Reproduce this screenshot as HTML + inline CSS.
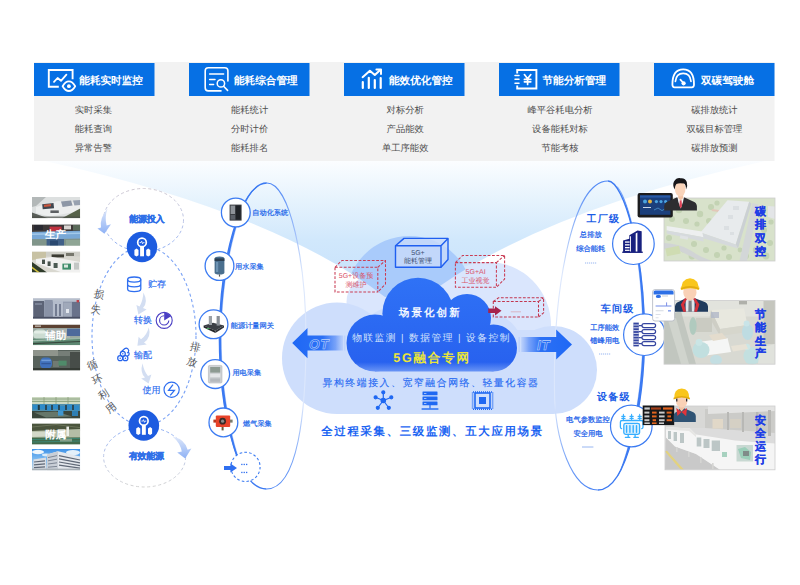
<!DOCTYPE html>
<html lang="zh">
<head>
<meta charset="utf-8">
<title>5G 能耗管理</title>
<style>
html,body{margin:0;padding:0;background:#fff;}
body{width:800px;height:585px;overflow:hidden;position:relative;font-family:"Liberation Sans",sans-serif;}
svg{display:block;position:absolute;left:0;top:0;}
svg text{font-family:"Liberation Sans",sans-serif;text-rendering:geometricPrecision;}
.hd{fill:#fff;font-size:10.6px;font-weight:bold;}
.li{fill:#4d4d4d;font-size:9.3px;text-anchor:middle;}
.dv{fill:#2468ea;font-size:7.2px;stroke:#2468ea;stroke-width:0.22px;}
.fl{fill:#2a6af0;font-size:9px;stroke:#2a6af0;stroke-width:0.15px;}
.rt{fill:#1a5ce6;font-size:10px;font-weight:bold;letter-spacing:1.2px;}
.rs{fill:#2060ea;font-size:7.3px;text-anchor:middle;stroke:#2060ea;stroke-width:0.22px;}
.vt{fill:#1f3fe6;font-size:11px;font-weight:bold;text-anchor:middle;stroke:#1f3fe6;stroke-width:0.3px;}
.gy{fill:#595959;font-size:10.4px;text-anchor:middle;}
.ph{fill:#fff;font-size:10.5px;font-weight:bold;text-anchor:middle;}
</style>
</head>
<body>
<svg width="800" height="585" viewBox="0 0 800 585">
<defs>
  <linearGradient id="beam" gradientUnits="userSpaceOnUse" x1="0" y1="161" x2="0" y2="300">
    <stop offset="0" stop-color="#fbfdff"/>
    <stop offset="0.28" stop-color="#e6f3fd"/>
    <stop offset="0.57" stop-color="#d1e8fc"/>
    <stop offset="1" stop-color="#c4dffb"/>
  </linearGradient>
  <linearGradient id="deep" gradientUnits="userSpaceOnUse" x1="0" y1="278" x2="0" y2="371.5">
    <stop offset="0" stop-color="#2f72f6"/>
    <stop offset="0.9" stop-color="#2862ef"/>
    <stop offset="1" stop-color="#6a95f5"/>
  </linearGradient>
  <linearGradient id="arL" x1="0" y1="0" x2="1" y2="0">
    <stop offset="0" stop-color="#1f68f5"/>
    <stop offset="0.6" stop-color="#2b70f5"/>
    <stop offset="0.85" stop-color="#6f9cf8" stop-opacity="0.9"/>
    <stop offset="1" stop-color="#b3cbfb" stop-opacity="0.7"/>
  </linearGradient>
  <linearGradient id="arR" x1="1" y1="0" x2="0" y2="0">
    <stop offset="0" stop-color="#1f68f5"/>
    <stop offset="0.62" stop-color="#2b70f5"/>
    <stop offset="0.85" stop-color="#6f9cf8" stop-opacity="0.9"/>
    <stop offset="1" stop-color="#b3cbfb" stop-opacity="0.7"/>
  </linearGradient>
  <linearGradient id="ellL" x1="0" y1="0" x2="0" y2="1">
    <stop offset="0" stop-color="#4d8cf5"/>
    <stop offset="1" stop-color="#2563eb"/>
  </linearGradient>
</defs>

<!-- background beam -->
<path id="beamP" d="M45,161 L765,161 Q535,212 425,297 L385,297 Q275,212 45,161 Z" fill="url(#beam)"/>
<clipPath id="beamClip"><path d="M45,161 L765,161 Q535,212 425,297 L385,297 Q275,212 45,161 Z"/></clipPath>

<!-- top panel -->
<rect x="34" y="62" width="740.5" height="99" fill="#f2f2f2"/>
<g fill="#0670e4">
  <rect x="34" y="63" width="120.5" height="33"/>
  <rect x="189" y="63" width="120.5" height="33"/>
  <rect x="344" y="63" width="120.5" height="33"/>
  <rect x="499" y="63" width="120.5" height="33"/>
  <rect x="654" y="63" width="120.5" height="33"/>
</g>

<!-- CLOUDS -->
<g id="clouds">
  <!-- layer A -->
  <g fill="#dae6fd">
    <circle cx="374" cy="302" r="27.5"/>
    <circle cx="488" cy="325" r="63"/>
    <rect x="372" y="300" width="120" height="80"/>
  </g>
  <circle cx="409.5" cy="300" r="64" fill="#a9cbfb" clip-path="url(#beamClip)"/>
  <!-- layer B -->
  <g fill="#cedefc">
    <ellipse cx="337" cy="358.2" rx="55" ry="55.8"/>
    <circle cx="553" cy="370" r="44"/>
    <rect x="337" y="330" width="216" height="84"/>
    <circle cx="400" cy="350" r="45"/>
    <circle cx="480" cy="355" r="45"/>
  </g>
  <!-- layer D -->
  <g fill="url(#deep)">
    <circle cx="418" cy="313.3" r="35.6"/>
    <circle cx="467" cy="318" r="24"/>
    <circle cx="375" cy="343" r="28.5"/>
    <circle cx="493.5" cy="348" r="23.5"/>
    <rect x="375" y="330" width="118.5" height="41.5"/>
  </g>
</g>

<!-- big ellipses -->
<defs>
  <linearGradient id="thinG" gradientUnits="userSpaceOnUse" x1="0" y1="181" x2="0" y2="490">
    <stop offset="0" stop-color="#4d86f5"/><stop offset="0.14" stop-color="#8fb3f8"/><stop offset="0.3" stop-color="#dce7fc"/>
    <stop offset="0.72" stop-color="#dce7fc"/><stop offset="0.86" stop-color="#8fb3f8"/><stop offset="1" stop-color="#4d86f5"/>
  </linearGradient>
</defs>
<g fill="none">
  <!-- left ellipse -->
  <path d="M266.8,183 C290,183 306,262 306,338 C306,412 298,489 266.4,489" stroke="url(#thinG)" stroke-width="1.1"/>
  <path d="M266.8,183 C240,183 219.4,262 219.4,338 C219.4,405 236,489 266.4,489" stroke="#3b79f2" stroke-width="1.4"/>
  <path d="M257,187 C238,198 219.4,268 219.4,338 C219.4,396 230,450 246,477 C233,450 221.2,396 221.2,338 C221.2,268 240,198 257,187 Z" fill="#3b79f2" stroke="#3b79f2" stroke-width="0.3"/>
  <!-- right ellipse -->
  <path d="M608,181 C570,181 553,300 554.5,390 C554.5,440 572,490 598,490" stroke="url(#thinG)" stroke-width="1.1"/>
  <path d="M608,181 C624,181 644.5,256 644.5,335 C644.5,400 628,490 598,490" stroke="#3b79f2" stroke-width="1.4"/>
  <path d="M617,186.4 C630,200 644.5,266 644.5,335 C644.5,392 634,446 618,476 C631,446 642.7,392 642.7,335 C642.7,266 629,200 617,186.4 Z" fill="#3b79f2" stroke="#3b79f2" stroke-width="0.3"/>
</g>

<!-- OT / IT arrows -->
<g>
  <path d="M292.2,343.1 L307.5,328 L307.5,335.6 L343.2,335.6 L343.2,350.6 L307.5,350.6 L307.5,358.2 Z" fill="url(#arL)"/>
  <rect x="344" y="335.6" width="1.4" height="15" fill="#bcd1fb" opacity="0.8"/>
  <text x="319" y="348.6" font-size="13.6" font-style="italic" font-weight="bold" fill="none" stroke="#bdd2fc" stroke-width="0.55" text-anchor="middle" letter-spacing="0.6">OT</text>
  <path d="M572,344.4 L556.2,329.4 L556.2,337 L521.2,337 L521.2,352 L556.2,352 L556.2,359.4 Z" fill="url(#arR)"/>
  <rect x="518.4" y="337" width="1.6" height="15" fill="#bcd1fb" opacity="0.8"/>
  <text x="543.6" y="349.6" font-size="13.6" font-style="italic" font-weight="bold" fill="none" stroke="#bdd2fc" stroke-width="0.55" text-anchor="middle" letter-spacing="0.6">IT</text>
</g>

<!-- boxes on cloud -->
<g id="boxes">
  <!-- solid blue box -->
  <g stroke="#1f5ff0" stroke-width="1.4" fill="#c8dafa" fill-opacity="0.8" stroke-linejoin="round">
    <path d="M395.5,245.8 L404,238.4 L448,238.4 L448,259.5 L441,267.3 L395.5,267.3 Z"/>
    <path d="M395.5,245.8 L441,245.8 L441,267.3 M441,245.8 L448,238.4" fill="none"/>
  </g>
  <text x="418" y="254.5" font-size="7" fill="#3d4f72" text-anchor="middle">5G+</text>
  <text x="418" y="263" font-size="7" fill="#3d4f72" text-anchor="middle">能耗管理</text>
  <!-- red dashed left -->
  <g stroke="#c93c54" stroke-width="1.05" fill="none" stroke-dasharray="2.8,1.6">
    <path d="M335,267.3 L377.8,267.3 L377.8,292 L335,292 Z"/>
    <path d="M335,267.3 L342,260.4 L385.5,260.4 L385.5,284 L377.8,292 M377.8,267.3 L385.5,260.4"/>
  </g>
  <text x="356" y="278.3" font-size="7" fill="#d9536a" text-anchor="middle">5G+设备预</text>
  <text x="356" y="286.6" font-size="7" fill="#d9536a" text-anchor="middle">测维护</text>
  <!-- red dashed right -->
  <g stroke="#c93c54" stroke-width="1.05" fill="none" stroke-dasharray="2.8,1.6">
    <path d="M455.4,262.6 L496.4,262.6 L496.4,287.2 L455.4,287.2 Z"/>
    <path d="M455.4,262.6 L462.6,255.4 L504.6,255.4 L504.6,279 L496.4,287.2 M496.4,262.6 L504.6,255.4"/>
  </g>
  <text x="475.6" y="274.3" font-size="7" fill="#d9536a" text-anchor="middle">5G+AI</text>
  <text x="475.6" y="282.8" font-size="7" fill="#d9536a" text-anchor="middle">工业视觉</text>
  <!-- red dashed small -->
  <g stroke="#c2364f" stroke-width="1.05" fill="none" stroke-dasharray="2.8,1.6">
    <path d="M493.3,301.5 L538.5,301.5 L538.5,317 L493.3,317 Z"/>
    <path d="M493.3,301.5 L498.5,297.8 L543.6,297.8 L543.6,312.8 L538.5,317 M538.5,301.5 L543.6,297.8"/>
  </g>
  <path d="M510.8,311.8 L521,311.8" stroke="#d7a9b8" stroke-width="0.8"/>
  <path d="M488.2,308.5 L495,308.5 L495,306.2 L501.5,310.8 L495,315.4 L495,313.1 L488.2,313.1 Z" fill="#a6234c"/>
</g>

<!-- cloud texts -->
<g>
  <text x="430.3" y="316.2" font-size="10.5" font-weight="bold" fill="#f4f8ff" text-anchor="middle" letter-spacing="2.1">场景化创新</text>
  <text x="431.5" y="340.6" font-size="9.8" fill="#d3e2fc" text-anchor="middle" letter-spacing="1.4">物联监测 | 数据管理 | 设备控制</text>
  <text x="432" y="362" font-size="12.6" font-weight="bold" fill="#e9e43a" text-anchor="middle" letter-spacing="1.7">5G融合专网</text>
  <text x="431" y="385.6" font-size="9.9" fill="#2468f2" stroke="#2468f2" stroke-width="0.12" text-anchor="middle" letter-spacing="1.55">异构终端接入、宽窄融合网络、轻量化容器</text>
  <text x="432.5" y="435.2" font-size="11.4" font-weight="bold" fill="#1b64f2" text-anchor="middle" letter-spacing="1.7">全过程采集、三级监测、五大应用场景</text>
</g>

<!-- cloud icons -->
<g stroke="#1f68f2" fill="#1f68f2">
  <!-- network -->
  <g stroke-width="1.2">
    <path d="M383.3,400.5 L383.3,392.5 M383.3,400.5 L391,397.5 M383.3,400.5 L376,397.5 M383.3,400.5 L388.6,407.5 M383.3,400.5 L378,407.5"/>
    <circle cx="383.3" cy="400.5" r="2.2"/>
    <circle cx="383.3" cy="392.3" r="1.5"/><circle cx="391.3" cy="397.3" r="1.5"/><circle cx="375.6" cy="397.3" r="1.5"/><circle cx="388.8" cy="407.8" r="1.5"/><circle cx="377.8" cy="407.8" r="1.5"/>
  </g>
  <!-- server -->
  <g stroke="none">
    <rect x="422.5" y="391.6" width="15" height="3.6" rx="0.5"/>
    <rect x="422.5" y="396.6" width="15" height="3.6" rx="0.5"/>
    <rect x="422.5" y="401.6" width="15" height="3.6" rx="0.5"/>
    <rect x="429.4" y="405" width="1.2" height="3.5"/>
    <rect x="421.6" y="408.3" width="16.8" height="1.4"/>
  </g>
  <g stroke="none" fill="#bed1f9"><rect x="424" y="393" width="2.4" height="0.8"/><rect x="424" y="398" width="2.4" height="0.8"/><rect x="424" y="403" width="2.4" height="0.8"/></g>
  <!-- chip -->
  <g>
    <rect x="475" y="393" width="15" height="15" fill="none" stroke-width="1.6"/>
    <rect x="479" y="397" width="7" height="7" stroke="none"/>
    <path d="M473,392 H492 M473,409.2 H492" stroke-width="1.6" stroke-dasharray="1,1" fill="none"/>
    <path d="M472.6,392.5 V409 M492.6,392.5 V409" stroke-width="1.6" stroke-dasharray="1,1" fill="none"/>
  </g>
</g>

<!-- header icons + titles -->
<g fill="none" stroke="#fff" stroke-linecap="round" stroke-linejoin="round">
  <!-- icon1 monitor + eye -->
  <path d="M58.8,86.8 H48.8 V70 H72.6 V79.2" stroke-width="1.9" stroke-linecap="butt" stroke-linejoin="miter"/>
  <path d="M54,81.8 L57.6,78 L61,80.8 L66.4,74.6" stroke-width="1.8"/>
  <path d="M62.6,86.2 Q65.4,81.4 68.9,81.4 Q72.4,81.4 75.2,86.2 Q72.4,91 68.9,91 Q65.4,91 62.6,86.2 Z" stroke-width="1.8"/>
  <circle cx="68.9" cy="86.2" r="1.9" fill="#fff" stroke="none"/>
  <!-- icon2 doc search -->
  <path d="M221,90.9 H208.3 Q205.2,90.9 205.2,87.8 V70.8 Q205.2,67.7 208.3,67.7 H224.8 Q227.9,67.7 227.9,70.8 V81" stroke-width="1.6"/>
  <path d="M209.6,74 H223.6 M209.6,79.6 H215 M209.6,84.5 H213.6" stroke-width="1.5"/>
  <circle cx="220.9" cy="83.4" r="3.7" stroke-width="1.5"/>
  <path d="M223.6,86.3 L227.6,90.4" stroke-width="1.6"/>
  <!-- icon3 bars + arrow -->
  <path d="M362.8,82 V88 M368.8,77.8 V88 M374.8,80 V88 M380.7,78 V88" stroke-width="2.2"/>
  <path d="M362.6,77.2 L369.9,70.8 L374.8,75 L380.2,70" stroke-width="2"/>
  <path d="M376.4,69.4 H381 V74" stroke-width="2"/>
  <!-- icon4 notebook -->
  <path d="M517.2,73.5 V70 H536.4 V88.5 H517.2 V85.4" stroke-width="1.9" stroke-linecap="butt" stroke-linejoin="miter"/>
  <path d="M515,75.6 H519 M515,79.3 H519 M515,83.2 H519" stroke-width="1.5"/>
  <path d="M524.4,74.6 L527.6,78.8 L530.8,74.6 M527.6,78.8 V84.4 M524.4,79.4 H530.8 M524.4,81.8 H530.8" stroke-width="1.7"/>
  <!-- icon5 gauge -->
  <path d="M674.6,87.4 Q672.4,87.4 672.4,84.6 Q672.4,69.4 683.2,69.4 Q694,69.4 694,84.6 Q694,87.4 691.8,87.4 Z" stroke-width="1.8"/>
  <path d="M675.4,81.4 Q676.2,73.4 683.2,73.4 Q690.2,73.4 691,81.4" stroke-width="1.7"/>
  <path d="M680.4,79.6 L683.4,83" stroke-width="1.7"/>
  <circle cx="683.6" cy="83.3" r="2.1" fill="#fff" stroke="none"/>
</g>
<g class="hd">
  <text class="hd" x="79.3" y="83.8">能耗实时监控</text>
  <text class="hd" x="234" y="83.8">能耗综合管理</text>
  <text class="hd" x="389" y="83.8">能效优化管控</text>
  <text class="hd" x="542.5" y="83.8">节能分析管理</text>
  <text class="hd" x="701" y="83.8">双碳驾驶舱</text>
</g>
<g>
  <text class="li" x="93.4" y="113.3">实时采集</text>
  <text class="li" x="93.4" y="132.3">能耗查询</text>
  <text class="li" x="93.4" y="151.3">异常告警</text>
  <text class="li" x="249.6" y="113.3">能耗统计</text>
  <text class="li" x="249.6" y="132.3">分时计价</text>
  <text class="li" x="249.6" y="151.3">能耗排名</text>
  <text class="li" x="405.2" y="113.3">对标分析</text>
  <text class="li" x="405.2" y="132.3">产品能效</text>
  <text class="li" x="405.2" y="151.3">单工序能效</text>
  <text class="li" x="560" y="113.3">峰平谷耗电分析</text>
  <text class="li" x="560" y="132.3">设备能耗对标</text>
  <text class="li" x="560" y="151.3">节能考核</text>
  <text class="li" x="714.4" y="113.3">碳排放统计</text>
  <text class="li" x="714.4" y="132.3">双碳目标管理</text>
  <text class="li" x="714.4" y="151.3">碳排放预测</text>
</g>

<!-- energy flow diagram -->
<defs>
  <linearGradient id="dashTop" gradientUnits="userSpaceOnUse" x1="0" y1="188" x2="0" y2="252">
    <stop offset="0" stop-color="#cdc6cf"/><stop offset="0.55" stop-color="#b9c3e6"/><stop offset="1" stop-color="#86a9f4"/>
  </linearGradient>
  <linearGradient id="dashBot" gradientUnits="userSpaceOnUse" x1="0" y1="427" x2="0" y2="487">
    <stop offset="0" stop-color="#86a9f4"/><stop offset="0.5" stop-color="#bcc7e4"/><stop offset="1" stop-color="#d2d2d2"/>
  </linearGradient>
  <linearGradient id="arw" x1="0" y1="0" x2="0" y2="1">
    <stop offset="0" stop-color="#dfe8fa"/><stop offset="1" stop-color="#8fb2f5"/>
  </linearGradient>
</defs>
<g fill="none" stroke-width="1" stroke-dasharray="3,2.6">
  <ellipse cx="143.5" cy="220" rx="40" ry="31.5" stroke="url(#dashTop)"/>
  <ellipse cx="144.6" cy="457" rx="41" ry="30" stroke="url(#dashBot)"/>
  <ellipse cx="144" cy="336" rx="52" ry="89.5" stroke="#7aa2f5" stroke-width="1.1"/>
</g>
<!-- side arrows -->
<path d="M107.6,208.4 Q99.4,218 101,227.4 L97.4,228.4 L104.4,233.8 L111,224.2 L106.6,225.6 Q104.4,217 107.6,208.4 Z" fill="url(#arw)"/>
<path d="M172.6,436.4 Q185.6,439.6 187.6,449.8 L191.4,448.4 L185.2,458.4 L177.2,452.6 L181.8,451.6 Q180.4,443 172.6,436.4 Z" fill="url(#arw)"/>
<!-- icon circles -->
<g>
  <circle cx="142.0" cy="247.0" r="15.3" fill="#1d5ce0"/>
  <circle cx="142.0" cy="242.4" r="4.3" fill="none" stroke="#fff" stroke-width="1.7"/>
  <path d="M139.6,242.6 H141.0 L141.7,241.2 L142.6,243.8 L143.2,242.6 H144.5" stroke="#fff" stroke-width="0.8" fill="none"/>
  <path d="M140.1,246.6 H144.0 V256.3 H140.1 Z" fill="#fff"/>
  <path d="M134.4,250.0 L136.5,248.6 L138.5,250.0 V255.2 L136.5,256.6 L134.4,255.2 Z" fill="#fff"/>
  <path d="M146.2,250.0 L148.2,248.6 L150.3,250.0 V255.2 L148.2,256.6 L146.2,255.2 Z" fill="#fff"/>
  <circle cx="143.8" cy="425.5" r="15.3" fill="#1d5ce0"/>
  <circle cx="143.8" cy="420.9" r="4.3" fill="none" stroke="#fff" stroke-width="1.7"/>
  <path d="M141.4,421.1 H142.8 L143.5,419.7 L144.4,422.3 L145.0,421.1 H146.3" stroke="#fff" stroke-width="0.8" fill="none"/>
  <path d="M141.9,425.1 H145.8 V434.8 H141.9 Z" fill="#fff"/>
  <path d="M136.2,428.5 L138.3,427.1 L140.3,428.5 V433.7 L138.3,435.1 L136.2,433.7 Z" fill="#fff"/>
  <path d="M148.0,428.5 L150.1,427.1 L152.1,428.5 V433.7 L150.1,435.1 L148.0,433.7 Z" fill="#fff"/>
</g>
<text x="146.7" y="221.8" font-size="9" font-weight="bold" fill="#2f6fe8" stroke="#2f6fe8" stroke-width="0.35" text-anchor="middle" letter-spacing="-0.3">能源投入</text>
<text x="146.3" y="459.3" font-size="9" font-weight="bold" fill="#2f6fe8" stroke="#2f6fe8" stroke-width="0.35" text-anchor="middle" letter-spacing="-0.3">有效能源</text>
<!-- flow items -->
<g fill="none" stroke="#2f6ff0" stroke-width="1.3">
  <ellipse cx="134.2" cy="279.6" rx="6.6" ry="2.6"/>
  <path d="M127.6,279.6 V289 Q127.6,291.6 134.2,291.6 Q140.8,291.6 140.8,289 V279.6 M127.6,284.3 Q127.6,286.9 134.2,286.9 Q140.8,286.9 140.8,284.3"/>
</g>
<text class="fl" x="148" y="287">贮存</text>
<text class="fl" x="134" y="323">转换</text>
<g fill="none" stroke="#4a3fc4" stroke-width="1.1">
  <circle cx="164.2" cy="320.4" r="8"/>
  <path d="M164.2,315.8 A4.6,4.6 0 1 0 168.8,320.4"/>
  <path d="M164.2,320.4 V312.6 A7.8,7.8 0 0 1 170.6,316.4 Z" fill="#4a3fc4" stroke="none"/>
</g>
<g fill="none" stroke="#2563eb" stroke-width="1.2">
  <circle cx="120.2" cy="358.2" r="2.5"/><circle cx="125.4" cy="358.2" r="2.5"/><circle cx="122.8" cy="353.8" r="2.5"/>
  <path d="M121,352 L124.6,348.8 A2.5,2.5 0 0 1 128.2,352.2 L127.2,353.2 M127.2,356.4 L129,354.8 A2.4,2.4 0 0 0 128.2,352"/>
  <circle cx="120.2" cy="358.2" r="0.7" fill="#2563eb" stroke="none"/><circle cx="125.4" cy="358.2" r="0.7" fill="#2563eb" stroke="none"/><circle cx="122.8" cy="353.8" r="0.7" fill="#2563eb" stroke="none"/>
</g>
<text class="fl" x="134" y="358">输配</text>
<text class="fl" x="142.6" y="393.2">使用</text>
<g fill="none" stroke="#2f6ff0" stroke-width="1.2">
  <circle cx="171.6" cy="389.8" r="7.6"/>
  <path d="M173,384.6 L168.6,390.4 H174.4 L170.2,395.4" stroke-width="1.3"/>
</g>
<!-- small flow arrows -->
<g fill="#d3def2">
  <path d="M143.4,292.6 Q148.6,302 143,308 L146.6,309.4 L138.4,314.4 L136.4,305 L139.6,306.6 Q143,300.6 143.4,292.6 Z"/>
  <path d="M148.8,327.2 Q151.6,337.6 144,342.4 L146.8,344.6 L137.4,345.8 L138.6,336.8 L141,339.2 Q146.8,335.4 148.8,327.2 Z"/>
  <path d="M142.6,363.2 Q139.6,372.6 145,377.4 L141.2,378.6 L148.6,383.6 L151.4,374.6 L148,376 Q143.8,371 142.6,363.2 Z"/>
</g>
<!-- rotated gray labels -->
<g class="gy">
  <text class="gy" transform="translate(98.3,297.6) rotate(12)">损</text>
  <text class="gy" transform="translate(95.3,312.6) rotate(8)">失</text>
  <text class="gy" transform="translate(93.6,368) rotate(-22)">循</text>
  <text class="gy" transform="translate(99,382.6) rotate(-26)">环</text>
  <text class="gy" transform="translate(105.4,397.4) rotate(-32)">利</text>
  <text class="gy" transform="translate(113.2,410.6) rotate(-38)">用</text>
  <text class="gy" transform="translate(194.6,350.6) rotate(14)">排</text>
  <text class="gy" transform="translate(190.8,365.2) rotate(20)">放</text>
</g>

<!-- device circles on left ellipse -->
<g fill="#fff" stroke="#3b7bf2" stroke-width="1.3">
  <circle cx="235.8" cy="212.5" r="14.4"/>
  <circle cx="219.5" cy="266" r="14.4"/>
  <circle cx="213.5" cy="324.3" r="14.4"/>
  <circle cx="215.2" cy="374.1" r="14.4"/>
  <circle cx="223.4" cy="422.4" r="14.4"/>
  <circle cx="245.5" cy="466.9" r="14.6" stroke-dasharray="2.6,2.2" stroke-width="1.1"/>
</g>
<!-- device pictures -->
<g>
  <!-- cabinet -->
  <rect x="229.6" y="204.6" width="12" height="16" fill="#3a3d42"/>
  <rect x="230.6" y="205.6" width="4.4" height="8.4" fill="#8e9399"/>
  <rect x="236" y="205.6" width="4.6" height="14" fill="#1f2226"/>
  <rect x="230.6" y="215" width="4.4" height="4.6" fill="#5b6068"/>
  <!-- water meter -->
  <path d="M214.6,258.6 Q214.6,256.4 219.5,256.4 Q224.4,256.4 224.4,258.6 V272.6 Q224.4,274.6 219.5,274.6 Q214.6,274.6 214.6,272.6 Z" fill="#4a6f8e"/>
  <rect x="214.6" y="258.4" width="9.8" height="2.6" fill="#2c3e50"/>
  <rect x="216" y="262" width="2.2" height="10" fill="#6d93b3"/>
  <rect x="218.9" y="274.4" width="1.2" height="2.2" fill="#555"/>
  <!-- gateway -->
  <path d="M203.6,325.6 L213,322.8 L224,325.6 L215.4,330.8 Z" fill="#3b3f45"/>
  <path d="M203.6,325.6 L215.4,330.8 L215.4,333 L203.6,327.6 Z" fill="#23262a"/>
  <path d="M215.4,330.8 L224,325.6 L224,327.6 L215.4,333 Z" fill="#2e3237"/>
  <rect x="208.8" y="316" width="3.2" height="9" fill="#9aa0a6"/>
  <rect x="216.6" y="316" width="3.2" height="9.6" fill="#8a9097"/>
  <rect x="206.6" y="328.2" width="3" height="0.9" fill="#53c26b"/>
  <!-- electric meter -->
  <rect x="208.4" y="365.4" width="13.6" height="17.6" rx="1.2" fill="#cfd2d5" stroke="#a6aaae" stroke-width="0.5"/>
  <rect x="210.2" y="367" width="10" height="5.6" fill="#8d9a92"/>
  <rect x="210.2" y="374" width="10" height="3" fill="#e4e6e8"/>
  <rect x="210.2" y="378.4" width="10" height="3.4" fill="#b5b9bd"/>
  <!-- gas detector -->
  <rect x="215.8" y="415.4" width="14.4" height="11.6" rx="1" fill="#e8432a"/>
  <circle cx="222.6" cy="421.2" r="3.4" fill="#3a2a26"/>
  <circle cx="222.6" cy="421.2" r="1.6" fill="#8a8a8a"/>
  <rect x="213.4" y="419.6" width="2.6" height="3" fill="#b8361f"/>
  <rect x="230" y="419.6" width="2.6" height="3" fill="#7a7a6a"/>
  <rect x="221.6" y="427" width="2" height="3.4" fill="#6b5a3a"/>
</g>
<g class="dv">
  <text class="dv" x="252.3" y="215.3">自动化系统</text>
  <text class="dv" x="235" y="269.2">用水采集</text>
  <text class="dv" x="230.8" y="327.6">能源计量网关</text>
  <text class="dv" x="232.4" y="375.4">用电采集</text>
  <text class="dv" x="243" y="426.2">燃气采集</text>
</g>
<g fill="#2f6ff0">
  <path d="M224,466 H230.4 V463.6 L237,468 L230.4,472.4 V470 H224 Z"/>
  <rect x="241.2" y="463.8" width="1.3" height="1.3"/><rect x="243.6" y="463.8" width="1.3" height="1.3"/><rect x="246" y="463.8" width="1.3" height="1.3"/>
  <rect x="241.2" y="471.8" width="1.3" height="1.3"/><rect x="243.6" y="471.8" width="1.3" height="1.3"/><rect x="246" y="471.8" width="1.3" height="1.3"/>
</g>

<!-- right side icon circles -->
<g fill="#fff" stroke="#3b7bf2" stroke-width="1.2">
  <circle cx="633.4" cy="243.7" r="20.8"/>
  <circle cx="644.4" cy="334.7" r="20.8"/>
  <circle cx="631.3" cy="426" r="20.8"/>
</g>
<!-- building icon -->
<g fill="#18217f">
  <path d="M623.1,240.4 L630.2,238.4 V252.6 H623.1 Z"/>
  <path d="M629.3,235.2 L637.5,230.5 L641.7,231.2 V252.6 H629.3 Z"/>
  <rect x="622.2" y="251.6" width="20.6" height="1.3"/>
</g>
<g fill="#fff">
  <path d="M635.7,233.4 L637.4,232.4 V251.6 H635.7 Z"/>
  <path d="M630.1,236.6 L631,236.1 V251.6 H630.1 Z"/>
  <rect x="625" y="241.4" width="4.6" height="1.3"/><rect x="625" y="244.2" width="4.6" height="1.3"/><rect x="625" y="247" width="4.6" height="1.3"/><rect x="625" y="249.7" width="4.6" height="1.2"/>
</g>
<!-- server rack icon -->
<g fill="none" stroke="#3646a0" stroke-width="1.2">
  <rect x="633.4" y="322.6" width="5.4" height="23.8" fill="#3646a0" stroke="none"/>
  <rect x="642" y="323.6" width="13.6" height="4" rx="2"/>
  <rect x="642" y="329.6" width="13.6" height="4" rx="2"/>
  <rect x="642" y="335.6" width="13.6" height="4" rx="2"/>
  <rect x="642" y="341.6" width="13.6" height="4" rx="2"/>
  <path d="M638.8,325.6 H642 M638.8,331.6 H642 M638.8,337.6 H642 M638.8,343.6 H642"/>
</g>
<g stroke="#fff" stroke-width="0.8"><path d="M633.4,325 H638.8 M633.4,327.8 H638.8 M633.4,330.6 H638.8 M633.4,333.4 H638.8 M633.4,336.2 H638.8 M633.4,339 H638.8 M633.4,341.8 H638.8 M633.4,344.4 H638.8"/></g>
<!-- transformer icon -->
<g fill="none" stroke="#35aeff" stroke-width="1.3" stroke-linecap="round" stroke-linejoin="round">
  <rect x="623.8" y="423.4" width="15.8" height="11" rx="1.8" fill="#d9f0ff"/>
  <path d="M626.6,425.8 V432.2 M629.9,425.8 V432.2 M633.2,425.8 V432.2 M636.5,425.8 V432.2" stroke-width="1.4"/>
  <path d="M621.6,428.6 Q620.4,428.4 620.4,427 V422 Q620.4,420.5 622,420.5 H641.4 Q643,420.5 643,422 V427 Q643,428.4 641.8,428.6"/>
  <path d="M623.4,414.4 V420.4 M621.8,416.4 H625 M621.8,418.4 H625 M631.6,414.4 V420.4 M630,416.4 H633.2 M630,418.4 H633.2 M639.7,414.4 V420.4 M638.1,416.4 H641.3 M638.1,418.4 H641.3" stroke-width="1.1"/>
  <path d="M628.2,434.6 V437.2 M635.1,434.6 V437.2 M625.4,437.4 H629.8 M633.9,437.4 H638.3"/>
</g>
<!-- right labels -->
<text class="rt" x="603.4" y="222.4" text-anchor="middle">工厂级</text>
<text class="rs" x="590.8" y="237.4">总排放</text>
<text class="rs" x="590.8" y="250.8">综合能耗</text>
<text class="rt" x="617.6" y="311.8" text-anchor="middle">车间级</text>
<text class="rs" x="604.8" y="329.8">工序能效</text>
<text class="rs" x="604.8" y="342.6">错峰用电</text>
<text class="rt" x="613.8" y="400.4" text-anchor="middle">设备级</text>
<text class="rs" x="588" y="422.2">电气参数监控</text>
<text class="rs" x="588" y="435.6">安全用电</text>
<g stroke="#7fa3ee" stroke-width="0.8" fill="none">
  <path d="M585,263 H597" stroke-dasharray="1.2,0.8"/>
  <path d="M599,354 H610.6" stroke-dasharray="1.2,0.8"/>
  <path d="M582,447 H593.4"/>
</g>

<!-- LEFT PHOTOS -->
<defs>
  <linearGradient id="pL1" x1="0" y1="0" x2="1" y2="1"><stop offset="0" stop-color="#7d8386"/><stop offset="0.35" stop-color="#d9dcdd"/><stop offset="0.8" stop-color="#c3c7c8"/><stop offset="1" stop-color="#4c5348"/></linearGradient>
  <linearGradient id="pL3" x1="0" y1="0" x2="1" y2="0"><stop offset="0" stop-color="#b9b29a"/><stop offset="0.5" stop-color="#d8d6cc"/><stop offset="1" stop-color="#ecedeb"/></linearGradient>
  <linearGradient id="pL4" x1="0" y1="0" x2="1" y2="0"><stop offset="0" stop-color="#6f7890"/><stop offset="0.5" stop-color="#a3abbd"/><stop offset="1" stop-color="#7d879d"/></linearGradient>
  <linearGradient id="pL9" x1="0" y1="0" x2="0" y2="1"><stop offset="0" stop-color="#3f93e8"/><stop offset="0.45" stop-color="#79b8f0"/><stop offset="1" stop-color="#c6d4de"/></linearGradient>
</defs>
<defs>
  <filter id="blur1" x="-5%" y="-5%" width="110%" height="110%"><feGaussianBlur stdDeviation="0.55"/></filter>
  <clipPath id="clipL">
    <rect x="32" y="197" width="48.2" height="21.3"/><rect x="32" y="224.4" width="48.2" height="21.3"/><rect x="32" y="251.4" width="48.2" height="21"/>
    <rect x="33" y="298.2" width="47.2" height="20.6"/><rect x="33" y="324.6" width="47.2" height="20.6"/><rect x="33" y="350" width="47.2" height="20.5"/>
    <rect x="32" y="397" width="48.2" height="21.6"/><rect x="32" y="423.5" width="48.2" height="21"/><rect x="32" y="449" width="48.2" height="21.4"/>
  </clipPath>
  <clipPath id="clipR">
    <rect x="664" y="198" width="111" height="63"/><rect x="664" y="300.5" width="111" height="63.7"/><rect x="665" y="406" width="110" height="63.8"/>
  </clipPath>
</defs>
<g clip-path="url(#clipL)"><g filter="url(#blur1)">
  <!-- L1 -->
  <rect x="32" y="197" width="48.2" height="21.3" fill="#dde0e0"/>
  <path d="M32,197 H46 L36,206 L32,207 Z" fill="#b3b8b8"/>
  <path d="M36,207 L58,201 L80.2,203 V211 L50,216.5 L36,213 Z" fill="#eceeee"/>
  <rect x="42.4" y="203.6" width="11.4" height="5.2" fill="#3f4650" transform="rotate(-6 48 206)"/>
  <rect x="44" y="204.4" width="7" height="2.2" fill="#c9563c" transform="rotate(-6 48 206)"/>
  <rect x="50.4" y="210.4" width="8.4" height="2.6" fill="#5b5f62"/>
  <path d="M61,201.6 L71,200.6 L72.6,205.6 L62.6,207 Z" fill="#8d97a6"/>
  <path d="M73,200.6 L80.2,200 V205 L74.4,205.6 Z" fill="#98a2b0"/>
  <path d="M32,212.6 L48,218.3 H32 Z" fill="#5a5f5a"/>
  <path d="M62,218.3 L80.2,208.6 V218.3 Z" fill="#566248"/>
  <path d="M32,216.6 H80.2 V218.3 H32 Z" fill="#4a4f48" opacity="0.7"/>
  <!-- L2 -->
  <rect x="32" y="224.4" width="48.2" height="21.3" fill="#87968f"/>
  <rect x="32" y="224.4" width="48.2" height="7.4" fill="#3d3839"/>
  <rect x="34" y="225" width="9" height="5" fill="#2b2b30"/><rect x="49.6" y="226.6" width="12" height="4.8" fill="#c0303f"/><rect x="64" y="225.4" width="7" height="4" fill="#d9d6d2"/><rect x="73" y="225" width="7" height="5.4" fill="#5a6a5a"/>
  <path d="M32,232 L80.2,230.8 V238.6 L32,239.4 Z" fill="#79a8d6"/>
  <path d="M32,233.6 L80.2,232.6 V234 L32,235 Z" fill="#a3c9ea"/>
  <rect x="32" y="239.2" width="48.2" height="6.5" fill="#80958a"/>
  <rect x="46.6" y="239" width="17.4" height="6.7" fill="#3f6088"/>
  <rect x="50" y="240.6" width="8" height="5.1" fill="#2c4a70"/>
  <rect x="66" y="240" width="14.2" height="5.7" fill="#8fa595"/>
  <!-- L3 -->
  <rect x="32" y="251.4" width="48.2" height="21" fill="#d9d8d0"/>
  <path d="M32,251.4 H46 V258 L32,260 Z" fill="#c8c2a4"/>
  <rect x="46" y="251.4" width="34.2" height="5" fill="#cfcfc8"/>
  <rect x="51.6" y="254.4" width="12.4" height="3" fill="#3b3b32"/>
  <rect x="66" y="253" width="8" height="3" fill="#77776c"/>
  <path d="M36,259 L52,257 L80.2,262 V272.4 H62 L44,266 L36,263 Z" fill="#f1f1f0"/>
  <rect x="42" y="259.6" width="3" height="4.4" fill="#47524c"/><rect x="47.6" y="261.4" width="3" height="4.6" fill="#47524c"/><rect x="53.6" y="263" width="4" height="5" fill="#4c5a53"/>
  <rect x="62.4" y="263.6" width="8.6" height="6" fill="#3e8c6a"/><rect x="64" y="264.6" width="4" height="3" fill="#d9e6df"/>
  <rect x="74" y="262.6" width="5" height="7" fill="#c3c7c5"/>
  <path d="M32,262 L47,272.4 H32 Z" fill="#2f3a2c"/>
  <path d="M32,266.6 L40,272.4 H37.6 L32,268.4 Z" fill="#d3c23f"/>

  <!-- L4 -->
  <rect x="33" y="298.2" width="47.2" height="20.6" fill="#949db0"/>
  <rect x="33" y="298.2" width="47.2" height="3.4" fill="#b7bfcc"/>
  <rect x="33.6" y="301" width="10.4" height="16" fill="#5c6376"/>
  <rect x="35" y="303" width="7" height="2" fill="#7a8296"/>
  <rect x="44.6" y="300" width="8" height="17" fill="#8a93a7"/>
  <rect x="53" y="301" width="10" height="16" fill="#b4bccb"/>
  <rect x="55" y="304" width="2" height="12" fill="#737c91"/><rect x="59" y="304" width="2" height="12" fill="#737c91"/>
  <rect x="63.6" y="303" width="8" height="14" fill="#a0a9ba"/>
  <rect x="66" y="309" width="3" height="4" fill="#e3e7ee"/>
  <rect x="72" y="302" width="8.2" height="15" fill="#69728a"/>
  <rect x="76.6" y="300" width="2.4" height="2.4" fill="#c0414a"/>
  <rect x="33" y="316.8" width="47.2" height="2" fill="#4a5064"/>
  <!-- L5 -->
  <rect x="33" y="324.6" width="47.2" height="20.6" fill="#9aa7a0"/>
  <rect x="33" y="324.6" width="47.2" height="3.4" fill="#5b4233"/>
  <rect x="35" y="325.6" width="6" height="1" fill="#e9e4dc"/>
  <rect x="33" y="329.4" width="14" height="10" rx="5" fill="#ccdcd2"/>
  <rect x="34" y="331" width="12" height="2.4" rx="1.2" fill="#e3ede6"/>
  <rect x="48" y="329" width="22" height="9" fill="#aab2b0"/>
  <rect x="67" y="328.6" width="13.2" height="7.4" fill="#4d6b9b"/>
  <rect x="33" y="338.6" width="47.2" height="6.6" fill="#5d8872"/>
  <path d="M33,340 L80.2,337.6 V339 L33,341.6 Z" fill="#9cb8a8"/>
  <path d="M33,343 L80.2,341 V342 L33,344.2 Z" fill="#38483e"/>
  <!-- L6 -->
  <rect x="33" y="350" width="47.2" height="20.5" fill="#59625b"/>
  <rect x="33" y="350" width="25" height="6" fill="#8f948c"/>
  <rect x="58" y="351" width="22.2" height="5" fill="#767e78"/>
  <rect x="70" y="352" width="10.2" height="16" fill="#474d48"/>
  <rect x="40" y="357.6" width="12" height="11" rx="4.4" fill="#3f70ba"/>
  <rect x="41.4" y="359.6" width="9.4" height="1.6" fill="#6e9ad8"/><rect x="41.4" y="363" width="9.4" height="1.2" fill="#33599a"/>
  <rect x="53" y="361" width="6" height="6" fill="#6f7a72"/>
  <rect x="58.6" y="360.6" width="8" height="5" fill="#4f8b6b"/>
  <rect x="33" y="368" width="47.2" height="2.5" fill="#343a36"/>

  <!-- L7 -->
  <rect x="32" y="397" width="48.2" height="21.6" fill="#7f9a86"/>
  <rect x="32" y="397" width="48.2" height="7" fill="#ccd9c2"/>
  <path d="M32,399 H80.2 M32,401.4 H80.2" stroke="#6f8a62" stroke-width="0.7"/>
  <path d="M44,397 V404 M56,397 V404 M68,397 V404" stroke="#8aa07c" stroke-width="0.8"/>
  <rect x="32" y="404" width="48.2" height="7.4" fill="#4f8fae"/>
  <g fill="#2d8bc9"><rect x="33" y="405" width="4.6" height="4.4"/><rect x="40" y="404.4" width="5" height="5"/><rect x="47" y="405.6" width="4" height="5"/><rect x="53" y="404.6" width="5" height="4.4"/><rect x="60" y="406" width="5" height="5.4"/><rect x="67" y="404.6" width="5" height="5"/><rect x="74" y="405.4" width="5" height="5"/></g>
  <g fill="#223a44"><rect x="37.8" y="405" width="2" height="5"/><rect x="45.2" y="405" width="1.6" height="5"/><rect x="51.2" y="405" width="1.6" height="5"/><rect x="58.2" y="405" width="1.6" height="5"/><rect x="65.2" y="405" width="1.6" height="5"/><rect x="72.2" y="405" width="1.6" height="5"/></g>
  <path d="M32,411 H80.2 V418.6 H32 Z" fill="#3a463e"/>
  <path d="M34,412.6 L56,411.4 L72,416.4 L46,417.6 Z" fill="#66776a"/>
  <rect x="58" y="410.6" width="5.4" height="5" fill="#3f97d0"/>
  <rect x="72" y="411" width="6" height="5" fill="#2f7fb4"/>
  <!-- L8 -->
  <rect x="32" y="423.5" width="48.2" height="21" fill="#6f7c60"/>
  <rect x="32" y="423.5" width="48.2" height="7.4" fill="#4b543e"/>
  <path d="M32,427 L56,424.6 L80.2,427.6" stroke="#6a7358" stroke-width="1" fill="none"/>
  <path d="M32,431 L80.2,429 V437.4 L32,438 Z" fill="#b4bda6"/>
  <path d="M32,432 L52,431.4 L52,436 L32,437 Z" fill="#d3d9c9"/>
  <rect x="66.4" y="426.6" width="2.6" height="9.4" fill="#eceee8"/>
  <rect x="32" y="437.6" width="48.2" height="6.9" fill="#436b4c"/>
  <path d="M32,439.6 L80.2,438.4 M32,442 L80.2,441" stroke="#3a8c7c" stroke-width="0.8"/>
  <rect x="60" y="438.6" width="12" height="3" fill="#86a08a"/>
  <!-- L9 -->
  <rect x="32" y="449" width="48.2" height="21.4" fill="url(#pL9)"/>
  <ellipse cx="38" cy="452" rx="6" ry="2.2" fill="#eef6fc"/><ellipse cx="73" cy="452.6" rx="7" ry="2.6" fill="#e3f0fa"/><ellipse cx="46" cy="455" rx="4" ry="1.4" fill="#d9ebf9"/>
  <path d="M47,454.6 L58,451.2 L80.2,456.6 V470.4 H47 Z" fill="#e4e8ed"/>
  <path d="M47,454.6 L58,451.2 V470.4 H47 Z" fill="#c9cfd7"/>
  <path d="M33.4,459.6 L46,457.6 V470.4 H33.4 Z" fill="#d9dde3"/>
  <g stroke="#5f6876" stroke-width="1.2"><path d="M59,455.6 L80,460 M59,458.8 L80,462.8 M59,462 L80,465.6 M59,465.2 L80,468.2"/><path d="M34,462 L45,460.8 M34,464.8 L45,463.8 M34,467.6 L45,466.8"/></g>
  <g stroke="#7d8694" stroke-width="1"><path d="M48,457.6 L57,455.6 M48,460.8 L57,459.2 M48,464 L57,462.8 M48,467.2 L57,466.4"/></g>
  <rect x="32" y="468.6" width="48.2" height="1.8" fill="#aab2b8"/>
</g>
</g>
<g>
  <text class="ph" x="55.6" y="237.8">生产</text>
  <text class="ph" x="55.8" y="338.6">辅助</text>
  <text class="ph" x="55.8" y="437.6">附属</text>
</g>

<!-- RIGHT PHOTOS -->
<g clip-path="url(#clipR)"><g filter="url(#blur1)">
  <!-- R1 aerial -->
  <rect x="664" y="198" width="111" height="63" fill="#cfdbbf"/>
  <g fill="#b4c8a0">
    <circle cx="670" cy="205" r="3"/><circle cx="679" cy="210" r="3.2"/><circle cx="690" cy="206" r="2.8"/><circle cx="700" cy="214" r="3.2"/><circle cx="711" cy="207" r="3"/><circle cx="720" cy="213" r="2.6"/>
    <circle cx="672" cy="219" r="3"/><circle cx="686" cy="221" r="3"/><circle cx="697" cy="224" r="2.6"/><circle cx="709" cy="221" r="3"/><circle cx="717" cy="203" r="2.6"/>
    <circle cx="669" cy="238" r="3"/><circle cx="694" cy="244" r="3"/><circle cx="706" cy="250" r="3"/><circle cx="717" cy="255" r="3"/><circle cx="729" cy="257" r="3"/><circle cx="692" cy="256" r="3.4"/>
    <circle cx="746" cy="256" r="3"/><circle cx="756" cy="250" r="3.2"/><circle cx="766" cy="256" r="3.4"/><circle cx="770" cy="243" r="3"/><circle cx="764" cy="230" r="3"/><circle cx="771" cy="222" r="2.6"/><circle cx="760" cy="215" r="2.6"/>
    <circle cx="740" cy="250" r="2.4"/><circle cx="724" cy="248" r="2.6"/><circle cx="683" cy="250" r="2.4"/>
  </g>
  <path d="M664,243 Q680,244 690,250 Q698,256 712,261 H700 Q690,256 682,252 Q674,248 664,249 Z" fill="#c6cacb"/>
  <path d="M752.5,203 L758.5,204.5 L747,261 H739.5 Z" fill="#c9cdcf"/>
  <rect x="666" y="247" width="14" height="8" fill="#c3d49f" transform="rotate(-12 673 251)"/>
  <path d="M712,209 L722,210.4 L721.6,212.4 L711.6,211 Z" fill="#dcb9a8"/>
  <path d="M727.5,200.2 L749.2,201.7 L735.7,244.5 L700.5,232.5 Z" fill="#e3e6e9"/>
  <path d="M749.2,201.7 L751.4,203.4 L738,248.6 L735.7,244.5 Z" fill="#bfc5ca"/>
  <path d="M700.5,232.5 L735.7,244.5 L738,248.6 L700.5,237.4 Z" fill="#cbd0d4"/>
  <path d="M666.7,226 L702,231.6 L703.4,237.2 L666.7,230.6 Z" fill="#e9ebed"/>
  <path d="M666.7,230.6 L703.4,237.2 L703.6,241.4 L666.7,233.6 Z" fill="#ccd1d5"/>
  <rect x="680" y="236" width="8" height="3" fill="#d9dcdf" transform="rotate(10 684 237.5)"/>
  <g fill="#d3d7db"><rect x="728" y="215" width="5" height="4"/><rect x="724" y="226" width="5" height="4"/><rect x="733" y="206" width="6" height="4"/><rect x="730" y="232" width="4" height="3"/></g>
  <path d="M768,206 L775,206.6 V219 L768,217 Z" fill="#dcdfe1"/>
  <rect x="664" y="198" width="111" height="63" fill="#fff" opacity="0.2"/>
  <!-- R2 workshop -->
  <rect x="664" y="300.5" width="111" height="63.7" fill="#c8c9bf"/>
  <rect x="664" y="300.5" width="111" height="16" fill="#d6d7ce"/>
  <rect x="739" y="301" width="8" height="3.4" fill="#8d8e86"/>
  <rect x="763.5" y="301" width="11.5" height="43" fill="#adaea3"/>
  <path d="M664,316 L681,311 L696,364.2 H664 Z" fill="#a7aea4"/>
  <path d="M668,320 L676,318 L689,364 H681 Z" fill="#bcc2b8"/>
  <path d="M711,310 L744,308.4 L747.4,325 L720,329 Z" fill="#dfdfd2"/>
  <path d="M711,310 L720,329 L720,336 L709.6,318 Z" fill="#b9b9ac"/>
  <path d="M720,329 L747.4,325 L748,332 L720,336 Z" fill="#c4c4b7"/>
  <rect x="711" y="312" width="8" height="6" fill="#8f98b0" opacity="0.8"/>
  <rect x="696" y="318" width="16" height="14" fill="#b3b5a8"/>
  <ellipse cx="693" cy="326" rx="3.6" ry="9" fill="#8fb3a2"/>
  <path d="M702,341.6 L727.5,338 L731,352 L706,355.4 Z" fill="#f1f3f1"/>
  <path d="M709,335 L722,333 L727,338.6 L713,341 Z" fill="#d9cdb8"/>
  <ellipse cx="701" cy="350" rx="8.5" ry="8" fill="#a6d1d1"/>
  <circle cx="699" cy="342.4" r="3.4" fill="#b4dada"/>
  <ellipse cx="747.6" cy="332" rx="5.6" ry="8" fill="#a3cdd6"/>
  <circle cx="746.6" cy="323.4" r="3" fill="#b2d8de"/>
  <ellipse cx="752" cy="356" rx="8.6" ry="9" fill="#a9d3d3"/>
  <circle cx="747" cy="347" r="3.2" fill="#b6dbdb"/>
  <ellipse cx="716" cy="360" rx="6" ry="5" fill="#aad0d6"/>
  <path d="M731,346 L746,344 L748,349 L733,351.4 Z" fill="#ddd6c4"/>
  <path d="M760,348 L775,344 V364.2 H758 Z" fill="#d3d6cd"/>
  <rect x="664" y="300.5" width="111" height="63.7" fill="#fff" opacity="0.3"/>
  <!-- R3 machines -->
  <rect x="665" y="406" width="110" height="63.8" fill="#d3d3d2"/>
  <rect x="665" y="406" width="110" height="22" fill="#cdcdcb"/>
  <path d="M705,409 H775 V433 L705,428 Z" fill="#bdbdb9"/>
  <path d="M708,406 H775 V411 L708,414 Z" fill="#dcdcda"/>
  <rect x="712.5" y="419" width="10.5" height="9.6" fill="#d9cdb9"/>
  <g fill="#a4a4a0"><rect x="727" y="412" width="2" height="18"/><rect x="742" y="412" width="2" height="20"/><rect x="756" y="412" width="2.4" height="22"/><rect x="768" y="410" width="3" height="26"/></g>
  <rect x="730" y="419" width="11" height="9" fill="#c9c3b4"/>
  <path d="M666,437.5 L675,446.5 L696,454 L720,469.8 H665 Z" fill="#bababa"/>
  <path d="M665,451.6 L667,450.8 L684,469.8 H680.8 Z" fill="#dcc65a"/>
  <path d="M666,427 L690,428.4 L696,434.4 L735,440.4 L775,443.6 V469.8 H720 L696,454 L675,446.5 L666,437.5 Z" fill="#f3f3f3"/>
  <path d="M666,427 L690,428.4 L696,434.4 L696,437 L689,431 L666,429.4 Z" fill="#dededc"/>
  <g fill="#a9b7b6"><rect x="668" y="431" width="3" height="8"/><rect x="673.6" y="432" width="3.4" height="9"/><rect x="680" y="433" width="4" height="10"/><rect x="696.7" y="437.5" width="4.6" height="9"/><rect x="703.5" y="439" width="6" height="9"/><rect x="711.7" y="440.5" width="8.3" height="10.5"/></g>
  <rect x="736.5" y="445" width="16.5" height="16.5" fill="#b9cdc6"/>
  <path d="M738,449 L745,447 L751,452 L750,460 L741,458 Z" fill="#7fc0a6"/>
  <rect x="743" y="451" width="6" height="5" fill="#5d6b68"/>
  <rect x="722" y="452" width="5" height="5" fill="#8fc4ae"/>
  <g fill="#c9c9c7"><rect x="676" y="447" width="1.6" height="5"/><rect x="688" y="452" width="1.6" height="5"/><rect x="700" y="457" width="1.6" height="6"/><rect x="712" y="463" width="1.6" height="6"/></g>
  <rect x="665" y="406" width="110" height="63.8" fill="#fff" opacity="0.22"/>
</g>
</g>
<g fill="none" stroke="#cdcdcd" stroke-width="0.8"><rect x="664" y="198" width="111" height="63"/><rect x="664" y="300.5" width="111" height="63.7"/><rect x="665" y="406" width="110" height="63.8"/></g>
<!-- vertical labels -->
<g class="vt">
  <text class="vt" x="760.6" y="215">碳</text><text class="vt" x="760.6" y="228.4">排</text><text class="vt" x="760.6" y="241.8">双</text><text class="vt" x="760.6" y="254.6">控</text>
  <text class="vt" x="760.6" y="318">节</text><text class="vt" x="760.6" y="331.4">能</text><text class="vt" x="760.6" y="344.6">生</text><text class="vt" x="760.6" y="357">产</text>
  <text class="vt" x="760.6" y="424">安</text><text class="vt" x="760.6" y="437.4">全</text><text class="vt" x="760.6" y="450.4">运</text><text class="vt" x="760.6" y="462.6">行</text>
</g>

<!-- screens -->
<g>
  <rect x="637.6" y="193" width="35.2" height="24.4" rx="2" fill="#1c1c1e"/>
  <rect x="640" y="195.4" width="30.4" height="19.4" fill="#1b3f7c"/>
  <rect x="640" y="195.4" width="30.4" height="2.2" fill="#2a5aa6"/>
  <circle cx="645" cy="201.6" r="2" fill="#4aa3e0"/><circle cx="650" cy="201.6" r="2" fill="#e3b341"/><circle cx="656.4" cy="201.6" r="1.6" fill="#4aa3e0"/><circle cx="661" cy="201.6" r="1.6" fill="#4aa3e0"/><circle cx="665.6" cy="201.6" r="1.6" fill="#4aa3e0"/>
  <rect x="643" y="207" width="8" height="1" fill="#c9d6ea"/><path d="M654,210 L658,208 L662,210.6 L667,207.6" stroke="#5ab0ea" stroke-width="0.6" fill="none"/>
  <!-- phone -->
  <rect x="652.6" y="289.6" width="22" height="31.4" rx="2.4" fill="#fff" stroke="#b9bdc6" stroke-width="0.9"/>
  <path d="M653.6,292 Q653.6,290.4 655.2,290.4 H672 Q673.6,290.4 673.6,292 V294.6 H653.6 Z" fill="#2c6fe6"/>
  <ellipse cx="658.4" cy="296.4" rx="2.6" ry="1.6" fill="#2c6fe6"/>
  <rect x="662" y="295.6" width="6" height="0.8" fill="#b9c2d2"/>
  <path d="M655.6,306 H671.4" stroke="#a8b8f0" stroke-width="1.6"/>
  <path d="M666.6,306 V302.4" stroke="#7d8fe6" stroke-width="1"/>
  <rect x="655.6" y="310.4" width="8" height="0.8" fill="#c9cfdb"/><rect x="668" y="310" width="3" height="1.6" fill="#8fa7ee"/><rect x="655.6" y="314" width="5" height="0.8" fill="#d3d8e2"/><rect x="655.6" y="317.4" width="3" height="0.8" fill="#d3d8e2"/>
  <!-- LED board -->
  <rect x="642.7" y="405.5" width="31.5" height="19.6" fill="#17181a"/>
  <g fill="#c9c9c9"><rect x="644.4" y="407.4" width="5.4" height="2.2"/><rect x="644.4" y="411.6" width="5" height="2"/><rect x="644.4" y="415.4" width="5" height="2"/><rect x="644.4" y="419.2" width="5" height="2"/><rect x="644.4" y="422.4" width="5.4" height="1.6"/><rect x="659" y="411.6" width="5.6" height="2"/><rect x="659" y="415.4" width="5.6" height="2"/><rect x="659" y="419.2" width="5.6" height="2"/><rect x="659" y="422.4" width="5" height="1.6"/></g>
  <g fill="#e2641f"><rect x="651" y="407.4" width="10" height="2.2" fill="#a3401a"/><rect x="663" y="407.4" width="9.6" height="2.2"/><rect x="652" y="411.6" width="4.6" height="2"/><rect x="652" y="415.4" width="4.6" height="2"/><rect x="652.6" y="419.2" width="3.4" height="2"/><rect x="652" y="422.4" width="4.6" height="1.6"/><rect x="666.6" y="411.6" width="5" height="2"/><rect x="667.4" y="415.4" width="3.6" height="2"/><rect x="666.6" y="419.2" width="5.4" height="2"/></g>
</g>

<!-- people -->
<g>
  <!-- person 1 (manager) -->
  <path d="M664.2,210.6 V206 Q664.6,202.4 668.4,201.2 L676.6,197.4 H684.6 L692.6,201.2 Q696.6,202.4 696.9,206 V210.6 Z" fill="#2d2d30"/>
  <path d="M677.4,197 H684 L683,202 L680.7,208.6 L678.4,202 Z" fill="#f4f4f4"/>
  <path d="M679.8,200.2 H681.6 L682,206 L680.7,208.4 L679.4,206 Z" fill="#df465a"/>
  <path d="M678.2,194 H683.2 V198 L680.7,200.4 L678.2,198 Z" fill="#f4c5a6"/>
  <ellipse cx="680.2" cy="188.8" rx="5.3" ry="7.6" fill="#f9d4ba"/>
  <path d="M674.6,189.6 Q672.2,185 674,181.6 Q676.4,177.6 680.4,178.2 Q685.4,177.6 686.8,182 Q688,186 686,189.6 Q686,184.6 684,183.6 Q679,182.6 676.4,184 Q674.8,186 674.6,189.6 Z" fill="#17171a"/>
  <!-- person 2 (engineer) -->
  <path d="M675,311.7 V306.4 Q675.4,302.6 679.4,301.4 L686.6,297.7 H693.6 L703.4,301.4 Q707.6,302.6 708,306.4 V311.7 Z" fill="#1f3a5c"/>
  <path d="M685.6,298 H694.6 V311.7 H685.6 Z" fill="#dfe5ea"/>
  <path d="M684.8,298.2 L687.2,298.6 L684.2,304.6 L686,311.7 H683.2 L680.8,304.4 Z M695.4,298.2 L693,298.6 L696,304.6 L694.2,311.7 H697 L699.4,304.4 Z" fill="#d5303a"/>
  <path d="M688.6,300.6 H691.6 L691.9,311.7 H688.3 Z" fill="#7a7e85"/>
  <path d="M687,294 H693 V298.4 L690,301 L687,298.4 Z" fill="#f2c3a4"/>
  <ellipse cx="689.9" cy="292.4" rx="6.6" ry="7.4" fill="#f9d1b6"/>
  <path d="M681.6,290 Q681,279 690,278.3 Q699,279 698.6,290 Q699.6,289 699.2,287 L698.6,285.6 L698.6,290 Q690,286.6 681.6,290 L681.6,285.6 L680.8,287.4 Q680.6,289.4 681.6,290 Z" fill="#f9c61c"/>
  <path d="M680.9,289.6 Q690,285.8 699.1,289.6 L699.2,288 Q690,284.2 680.8,288 Z" fill="#e3ab0f"/>
  <!-- person 3 (worker) -->
  <path d="M673.7,422 V415.6 Q674,412.4 677.4,411.4 L680,408 H683.6 L691.6,411.4 Q695.6,412.6 695.8,416 V422 Z" fill="#2f5374"/>
  <path d="M676.3,408.1 L681.5,412.1 L677.4,416 Z M687,408.1 L681.5,412.1 L686.2,416.2 Z" fill="#e0343a"/>
  <path d="M679,403.6 H684.2 V408.4 L681.6,411.6 L679,408.4 Z" fill="#f2c3a4"/>
  <ellipse cx="681.7" cy="401" rx="5.7" ry="6.6" fill="#f9d1b6"/>
  <path d="M676,398.6 H677.4 V401.4 H676.2 Z M687.4,398.6 H686 V401.4 H687.2 Z" fill="#2b2b33"/>
  <path d="M674.2,398.8 Q673.6,389.2 681.7,388.6 Q689.8,389.2 689.2,398.8 Q681.7,395.4 674.2,398.8 Z" fill="#f9c61c"/>
  <path d="M673.6,399.4 Q681.7,395.6 689.8,399.4 L689.9,397.8 Q681.7,394.2 673.5,397.8 Z" fill="#e3ab0f"/>
</g>

</svg>
</body>
</html>
